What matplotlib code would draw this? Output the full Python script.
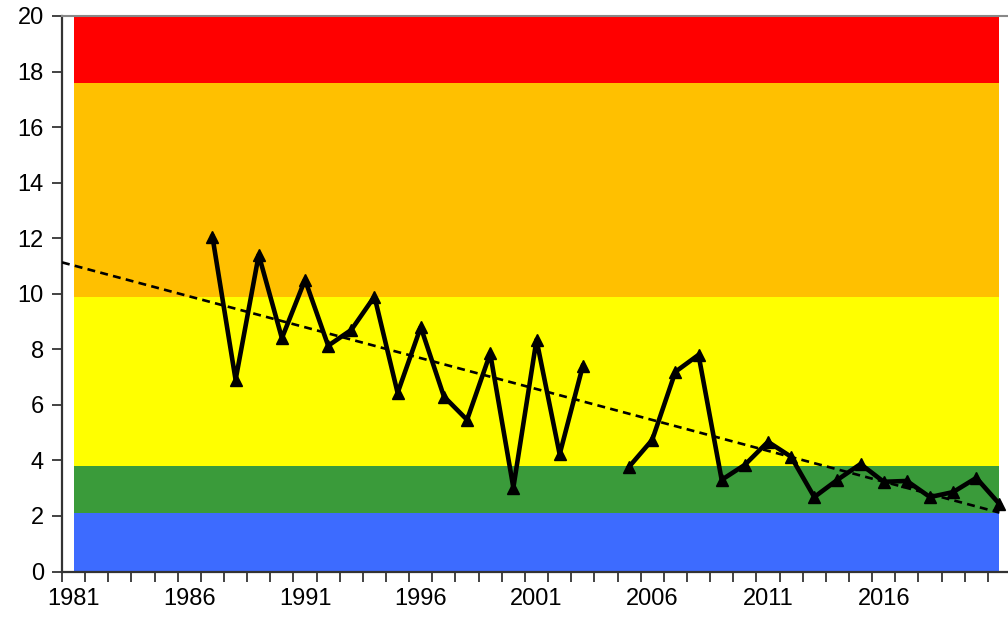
import numpy as np
import matplotlib
matplotlib.use("Agg")
from matplotlib import pyplot as plt

plt.rcParams['font.family'] = ['Liberation Sans', 'DejaVu Sans']

years = list(range(1981, 2022))
values = [np.nan] * 6 + [
    12.05, 6.9, 11.4, 8.4, 10.5, 8.13, 8.7, 9.9, 6.43, 8.8,
    6.3, 5.46, 7.85, 3.02, 8.34, 4.22, 7.4, np.nan, 3.77, 4.74,
    7.19, 7.8, 3.3, 3.84, 4.67, 4.13, 2.68, 3.3, 3.87, 3.23,
    3.26, 2.68, 2.86, 3.37, 2.43]

band_edges = [0, 2.1, 3.8, 9.9, 17.6, 20]
band_colors = ['#3D6BFF', '#3A9B3A', '#FFFF00', '#FFC000', '#FF0000']

trend_x = [-0.5, 40]
trend_y = [11.13, 2.12]

label_years = [1981, 1986, 1991, 1996, 2001, 2006, 2011, 2016]

x = np.arange(len(years))

fig = plt.figure(figsize=(10.08, 6.23), dpi=100)
ax = fig.add_axes([62 / 1008, 1 - 571.5 / 623, (1011 - 62) / 1008, (571.5 - 16) / 623])

for i in range(len(band_colors)):
    ax.fill_between([x[0], x[-1]], band_edges[i], band_edges[i + 1],
                    color=band_colors[i], linewidth=0, zorder=1)

ax.plot(trend_x, trend_y, color='black', linestyle=(0, (3, 2)), linewidth=1.9, zorder=3)
ax.plot(x, values, color='black', linewidth=3.3, marker='^', markersize=8.5, zorder=4)

ax.set_xlim(-0.5, len(years) - 0.5)
ax.set_ylim(0, 20)

ax.set_xticks(np.arange(len(years) + 1) - 0.5)
ax.set_xticklabels([])
ax.set_xticks([years.index(y) for y in label_years], minor=True)
ax.set_xticklabels([str(y) for y in label_years], minor=True)
ax.tick_params(axis='x', which='major', length=7, width=1.2, color='#222222', direction='out')
ax.tick_params(axis='x', which='minor', length=0, pad=12, labelsize=17)

ax.set_yticks(range(0, 21, 2))
ax.tick_params(axis='y', length=7, width=1.2, color='#222222', labelsize=17, pad=6)

ax.spines['right'].set_visible(False)
ax.spines['top'].set_color('#888888')
ax.spines['top'].set_linewidth(1.5)
ax.spines['left'].set_color('#333333')
ax.spines['left'].set_linewidth(1.6)
ax.spines['bottom'].set_color('#333333')
ax.spines['bottom'].set_linewidth(1.6)

plt.savefig('out.png', dpi=100)
